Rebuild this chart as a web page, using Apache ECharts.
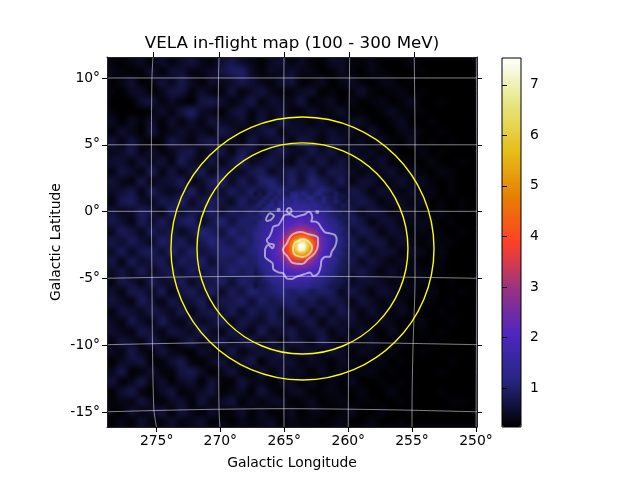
<!DOCTYPE html>
<html><head><meta charset="utf-8">
<style>html,body{margin:0;padding:0;background:#fff}#c{width:640px;height:480px}</style>
<script src="https://cdn.jsdelivr.net/npm/echarts@6/dist/echarts.min.js"></script>
</head><body><div id="c"></div>
<script>
const titleText = 'VELA in-flight map (100 - 300 MeV)';
const colormap = ['#000000','#262680','#4d26bf','#993380','#ff4026','#e68000','#e6bf1a','#e6e680','#ffffff'];
const vMin = 0.23, vMax = 7.53;
const lonMin = 250.23, lonMax = 278.47, latMin = -16.12, latMax = 11.57;
const cbarTicks = [1,2,3,4,5,6,7];
const latTicks = [-15,-10,-5,0,5,10];
const lonTicksBottom = [274.68,269.82,264.94,260.05,255.19,250.31];
const lonTicksTop = [274.96,269.92,264.94,259.98,255.02];

// whole map, values x10, top row first
const backgroundRows = [
[3,2,4,5,2,6,3,5,7,4,3,6,8,5,4,2,5,6,3,5,3,2,5,5,3,3,4,2,2,2,4,2,2,2,2,2,2],
[4,3,2,3,6,2,6,6,3,4,5,7,9,10,5,3,5,4,6,4,4,2,3,5,3,2,4,3,2,2,2,3,2,2,2,2,2],
[2,4,6,2,3,7,4,8,5,2,6,4,5,8,6,4,3,6,7,2,3,5,2,4,5,3,2,4,4,2,3,2,2,2,2,2,2],
[3,2,5,5,2,4,7,7,3,6,3,3,7,3,5,7,4,3,3,5,6,2,3,2,3,6,3,2,3,4,2,3,2,2,2,2,2],
[2,2,2,6,7,3,5,3,2,7,8,6,3,5,8,3,6,5,4,7,2,4,5,2,4,2,3,4,2,3,5,2,2,3,2,2,2],
[3,2,2,2,3,6,3,7,10,5,4,2,6,7,3,6,4,6,3,3,6,3,4,6,2,3,2,3,5,3,3,3,2,2,2,2,2],
[5,2,5,3,6,2,6,3,6,3,7,5,4,6,3,7,3,8,5,5,3,5,2,3,5,5,3,2,3,5,2,2,3,2,2,2,2],
[2,6,4,2,7,3,4,6,4,5,3,8,6,3,5,6,8,3,6,5,6,4,6,4,5,2,6,3,2,4,4,3,2,3,2,2,2],
[7,3,7,4,2,3,8,5,3,7,8,4,5,3,8,4,5,7,3,8,6,3,6,6,3,5,2,5,3,2,5,2,3,2,3,2,2],
[4,5,8,3,6,3,4,7,8,3,5,8,3,9,6,3,6,8,5,4,8,5,7,3,6,4,5,3,5,2,2,4,2,3,2,2,2],
[6,6,3,7,4,7,3,9,5,4,8,3,7,10,4,6,8,5,3,8,4,8,4,7,3,6,3,6,2,4,3,2,4,2,2,3,2],
[3,7,6,3,9,3,7,3,7,9,3,8,6,4,8,9,4,7,9,6,9,4,8,7,5,3,5,4,6,3,5,3,2,4,3,2,2],
[7,4,3,8,3,6,6,9,3,5,9,10,4,9,5,10,11,6,10,5,11,8,5,9,3,6,6,3,4,6,3,5,3,2,3,2,2],
[5,6,8,3,9,5,4,6,10,4,7,5,9,6,10,6,10,12,7,10,8,12,9,4,8,6,3,6,5,3,5,3,4,2,3,2,2],
[3,8,9,5,4,8,7,10,4,8,9,7,4,10,6,9,11,11,12,12,12,10,10,8,6,8,6,3,5,5,3,5,2,3,2,3,2],
[7,4,5,9,7,3,10,5,8,6,10,5,9,7,10,9,11,13,14,13,12,11,8,10,8,4,7,6,3,5,5,3,3,4,2,3,2],
[8,6,3,9,5,9,5,9,10,4,7,11,6,10,9,11,13,15,18,15,13,11,10,6,9,7,3,6,6,3,4,4,4,2,3,2,2],
[4,9,7,4,9,6,8,4,7,11,9,6,11,8,10,12,14,20,25,20,14,12,9,10,5,8,7,3,6,5,3,4,3,3,2,3,2],
[8,5,9,6,4,10,7,9,5,8,11,9,7,11,9,12,15,25,40,25,15,12,10,8,9,4,7,7,3,6,4,2,4,3,3,2,2],
[5,9,4,8,9,5,10,6,10,6,8,10,10,7,11,12,14,22,35,22,14,12,10,9,6,9,4,6,6,3,5,4,2,4,2,2,2],
[8,3,9,5,7,9,4,9,7,10,5,9,8,11,9,11,13,16,20,16,13,11,8,10,8,4,7,5,3,5,4,2,3,3,2,2,2],
[5,7,4,9,4,7,9,5,9,6,9,7,11,8,10,10,12,13,15,13,12,9,10,7,6,8,5,3,6,3,4,4,2,3,2,2,2],
[3,8,6,3,9,5,6,9,4,8,7,10,5,10,8,11,11,12,13,12,11,10,7,9,4,6,6,5,3,5,3,4,3,2,3,2,2],
[6,3,8,7,4,9,3,7,9,5,10,4,9,6,11,8,10,12,9,11,8,10,9,4,8,5,3,6,5,3,4,2,4,2,2,3,2],
[7,5,3,9,6,3,8,5,6,9,3,8,7,10,5,10,7,9,10,6,9,5,8,7,3,7,5,3,5,4,2,3,3,2,3,2,2],
[3,7,6,4,8,6,4,9,3,7,8,5,9,4,9,6,9,5,8,9,4,8,4,8,6,3,6,4,3,5,3,2,2,3,2,2,2],
[5,3,8,5,3,9,5,3,8,4,6,9,3,8,6,5,8,7,3,6,8,3,7,5,6,4,3,5,4,2,3,4,2,2,3,2,2],
[6,4,3,8,6,3,7,6,4,9,5,3,8,6,3,9,4,6,8,4,6,7,3,6,3,6,4,2,5,3,2,3,2,3,2,2,2],
[3,7,5,3,8,5,2,5,8,3,6,8,4,7,9,3,7,3,7,6,3,8,5,3,6,3,5,3,2,4,3,2,3,2,2,2,2],
[5,3,8,4,3,7,4,3,2,6,4,3,8,3,5,7,5,8,3,5,6,3,6,5,2,5,4,2,4,2,2,3,2,2,2,2,2],
[2,5,6,7,2,3,6,8,3,2,5,7,3,6,8,2,6,5,6,3,5,4,2,5,4,2,3,4,2,3,2,2,2,2,3,2,2],
[4,8,2,3,6,3,3,7,8,5,2,4,7,3,2,7,3,6,4,5,2,5,3,4,3,3,4,2,3,2,3,2,2,3,2,2,2],
[7,2,4,8,3,6,2,5,6,2,7,3,2,7,4,4,2,5,5,2,5,2,4,2,5,2,2,3,2,3,2,2,2,2,2,2,2],
[2,6,8,3,2,5,7,2,4,5,7,2,4,5,2,7,4,2,5,5,2,3,4,3,2,4,2,2,4,2,3,2,2,3,2,2,2],
[3,4,3,7,4,2,5,6,2,7,3,5,7,2,5,3,5,5,2,3,5,2,3,4,2,3,3,2,2,3,2,2,2,2,3,3,2],
[3,2,6,3,5,7,2,7,4,2,6,3,3,6,2,5,2,3,5,2,4,4,2,3,5,2,2,4,2,2,3,2,2,3,2,2,2],
[2,4,2,6,3,3,6,3,4,6,2,4,2,4,3,4,5,2,4,3,3,2,3,4,2,2,4,2,2,3,2,2,2,2,2,2,2]
];
// finer cells round the source, values x10, top row first
const coreRows = [
[6,8,6,9,10,8,11,9,8,11,12,10,12,10,9,11,12,9,8,7,9,7,6,6],
[8,7,9,10,8,11,9,12,10,12,13,11,10,13,12,10,9,11,9,8,9,7,7,6],
[7,9,10,8,11,9,12,11,13,11,14,12,12,11,13,11,10,12,9,8,10,8,6,7],
[9,10,8,11,12,10,13,14,12,14,15,13,15,13,12,14,12,10,10,9,8,7,9,7],
[9,8,11,12,10,13,14,15,13,16,15,16,14,16,14,13,12,11,12,10,9,8,8,7],
[8,11,12,10,13,14,15,16,17,16,18,17,18,16,17,15,13,14,11,10,9,9,7,8],
[10,9,12,14,13,15,17,17,18,19,19,20,19,20,18,17,16,14,12,11,10,8,9,8],
[9,12,13,14,16,16,18,19,20,20,21,22,21,20,20,19,18,15,13,13,11,10,8,7],
[10,12,14,15,16,18,19,20,21,22,24,25,25,24,22,21,19,16,15,13,12,10,9,8],
[11,13,14,16,17,19,20,22,24,26,28,30,30,28,26,24,21,19,16,14,12,11,10,8],
[12,13,15,16,18,19,21,24,27,32,36,38,38,34,32,28,23,20,17,15,13,11,9,9],
[12,14,15,17,19,20,22,27,33,40,46,50,50,45,39,33,25,21,18,16,13,11,10,9],
[11,13,15,17,19,21,24,30,37,46,58,68,68,58,46,36,26,22,19,16,13,12,10,8],
[12,13,16,17,19,21,25,32,39,49,62,77,76,62,49,37,26,22,19,15,13,11,10,9],
[11,13,15,17,19,21,25,32,39,48,60,73,71,58,47,35,25,21,18,15,13,11,9,8],
[11,13,15,17,19,21,24,30,37,45,52,56,56,50,41,31,23,20,17,15,12,11,10,8],
[10,12,14,16,18,20,22,27,33,38,43,45,44,39,32,26,21,19,16,14,12,10,9,8],
[10,12,13,15,17,19,21,24,27,32,34,35,33,30,26,23,20,19,16,13,12,10,8,8],
[9,11,13,14,16,18,20,21,24,26,27,27,26,25,23,21,19,17,14,13,11,9,9,7],
[8,10,12,14,15,17,19,20,21,22,23,23,22,21,20,19,18,16,14,12,10,9,8,7],
[7,9,11,13,14,16,17,18,19,19,20,20,19,19,19,18,16,14,12,11,10,8,8,7],
[8,8,10,12,13,14,15,16,17,17,18,18,17,18,17,15,14,13,11,10,9,8,7,7],
[7,8,9,10,12,13,14,15,15,16,16,15,16,15,14,13,12,11,10,9,8,8,7,6],
[6,8,8,9,10,11,12,13,14,14,14,14,13,14,12,11,11,10,9,8,8,7,6,6]
];
const contourOuter = [[264.45,-0.20],[264.12,-0.40],[263.74,-0.30],[263.36,-0.20],[263.10,-0.01],[262.90,-0.13],[262.80,-0.45],[262.90,-0.75],[262.65,-0.75],[262.34,-0.88],[262.09,-1.25],[261.83,-1.55],[261.45,-1.63],[261.07,-1.75],[260.94,-2.13],[261.07,-2.62],[261.32,-3.00],[261.45,-3.37],[261.76,-3.37],[262.09,-3.62],[262.16,-4.12],[262.34,-4.62],[262.72,-4.82],[262.98,-4.55],[263.23,-4.62],[263.61,-4.75],[263.99,-4.87],[264.38,-5.05],[264.76,-5.00],[265.01,-4.62],[265.39,-4.55],[265.78,-4.30],[265.83,-3.87],[266.16,-3.62],[266.41,-3.37],[266.41,-2.87],[266.16,-2.50],[265.83,-2.75],[265.73,-2.50],[266.16,-2.37],[266.28,-2.13],[266.08,-1.88],[265.90,-1.50],[265.78,-1.13],[265.39,-1.00],[265.14,-0.63],[264.89,-0.25],[264.45,-0.20]];
const contourBlob = [[266.34,-0.55],[266.03,-0.13],[265.73,-0.30],[265.98,-0.63],[266.28,-0.70],[266.34,-0.55]];
const contourRing = [[264.78,0.07],[264.58,0.27],[264.38,0.07],[264.58,-0.13],[264.78,0.07]];
const contourMid = [[264.27,-1.68],[263.74,-1.53],[263.13,-1.68],[262.37,-1.98],[262.37,-2.50],[262.60,-3.10],[263.13,-3.55],[263.59,-3.92],[264.27,-3.85],[264.66,-3.40],[265.04,-2.87],[264.73,-2.35],[264.50,-1.90],[264.27,-1.68]];
const contourInner = [[263.89,-2.20],[263.51,-2.05],[262.98,-2.35],[262.82,-2.72],[262.98,-3.10],[263.51,-3.40],[263.97,-3.32],[264.27,-2.87],[264.20,-2.43],[263.89,-2.20]];
const contourDots = [[265.37,0.14],[262.42,-0.03]];
// lon, lat, radius along lon, radius along lat
const regionRings = [[263.55,-2.76,8.05,7.90],[263.55,-2.76,10.04,9.84]];
const meridians = [
 [[274.96,11.57],[275.04,10],[275.08,4.98],[275.08,0],[275.04,-4.97],[275.00,-9.99],[274.89,-14.85],[274.69,-16.12]],
 [[269.92,11.57],[269.96,10],[270.00,4.98],[270.00,0],[270.00,-4.97],[269.96,-9.99],[269.92,-14.85],[269.85,-16.12]],
 [[264.96,11.57],[265.00,0],[264.96,-16.12]],
 [[259.95,11.57],[260.00,4.98],[260.00,0],[260.03,-9.99],[260.06,-16.12]],
 [[255.02,11.57],[254.96,4.98],[254.96,0],[254.96,-4.97],[255.11,-9.99],[255.19,-14.85],[255.19,-16.12]],
 [[250.28,11.57],[250.25,0],[250.30,-16.12]]
];
const parallels = [
 [[278.47,10.0],[250.23,10.0]],
 [[278.47,5.0],[250.23,5.0]],
 [[278.47,0.02],[250.23,0.02]],
 [[278.47,-4.99],[271.76,-4.88],[265,-4.84],[257.63,-4.88],[250.23,-4.99]],
 [[278.47,-9.96],[271.76,-9.83],[265,-9.78],[257.63,-9.83],[250.23,-9.96]],
 [[278.47,-14.98],[271.76,-14.82],[265,-14.75],[257.63,-14.82],[250.23,-14.98]]
];

const FONT = 'DejaVu Sans';
const toCells = rows => rows.flatMap((r, j) => r.map((v, i) => [i, j, v / 10]));
const idx = n => Array.from({length: n}, (_, i) => i);
const hiddenCat = (gridIndex, n, inverse) => ({type: 'category', gridIndex, data: idx(n), show: false, inverse: !!inverse, boundaryGap: true});
const lineStyleGrid = {color: 'rgba(255,255,255,0.5)', width: 1};
const lineStyleContour = {color: 'rgba(255,255,255,0.55)', width: 2};
const tick = {show: true, length: 5, inside: false, lineStyle: {color: '#000', width: 1}};
const axisLine = {show: true, onZero: false, lineStyle: {color: '#222', width: 1}};
const mapLine = (data, lineStyle, smooth, z) => ({type: 'line', xAxisIndex: 0, yAxisIndex: 0, data, showSymbol: false, symbol: 'none', smooth: smooth || 0, lineStyle, silent: true, z, clip: true, animation: false});

const chart = echarts.init(document.getElementById('c'), null, {renderer: 'canvas'});
chart.setOption({
  animation: false,
  backgroundColor: 'transparent',
  textStyle: {fontFamily: FONT, color: '#000'},
  title: {text: titleText, left: 292, top: 35, textAlign: 'center', padding: 0,
    textStyle: {fontFamily: FONT, fontSize: 16.67, fontWeight: 'normal', color: '#000'}},
  grid: [
    {left: 107, top: 57, width: 370, height: 370, z: 6},
    {left: 107, top: 57, width: 370, height: 370},
    {left: 254, top: 192, width: 96, height: 96},
    {left: 502, top: 58, width: 19, height: 369, show: true, borderColor: '#000', borderWidth: 1, backgroundColor: 'transparent', z: 6}
  ],
  xAxis: [
    {type: 'value', gridIndex: 0, inverse: true, min: lonMin, max: lonMax, position: 'bottom', z: 6,
     name: 'Galactic Longitude', nameLocation: 'middle', nameGap: 29, nameTextStyle: {fontFamily: FONT, fontSize: 13.9, color: '#000'},
     axisLine, axisTick: {...tick, customValues: lonTicksBottom}, splitLine: {show: false},
     axisLabel: {show: true, customValues: lonTicksBottom, margin: 7, fontFamily: FONT, fontSize: 13.9, color: '#000', hideOverlap: false, showMinLabel: true, showMaxLabel: true,
       formatter: v => Math.round(v / 5) * 5 + '°'}},
    {type: 'value', gridIndex: 0, inverse: true, min: lonMin, max: lonMax, position: 'top', z: 6,
     axisLine, axisTick: {...tick, customValues: lonTicksTop}, axisLabel: {show: false}, splitLine: {show: false}},
    hiddenCat(1, 37),
    hiddenCat(2, 24),
    {type: 'value', gridIndex: 3, min: 0, max: 1, show: false}
  ],
  yAxis: [
    {type: 'value', gridIndex: 0, min: latMin, max: latMax, position: 'left', z: 6,
     name: 'Galactic Latitude', nameLocation: 'middle', nameGap: 51, nameMoveOverlap: false, nameRotate: 90, nameTextStyle: {fontFamily: FONT, fontSize: 13.9, color: '#000', verticalAlign: 'middle'},
     axisLine, axisTick: {...tick, customValues: latTicks}, splitLine: {show: false},
     axisLabel: {show: true, customValues: latTicks, margin: 7, fontFamily: FONT, fontSize: 13.9, color: '#000', formatter: v => v + '°'}},
    {type: 'value', gridIndex: 0, min: latMin, max: latMax, position: 'right', z: 6,
     axisLine, axisTick: {...tick, customValues: latTicks}, axisLabel: {show: false}, splitLine: {show: false}},
    hiddenCat(1, 37, true),
    hiddenCat(2, 24, true),
    {type: 'value', gridIndex: 3, min: vMin, max: vMax, position: 'right', z: 6,
     axisLine: {show: false}, splitLine: {show: false},
     axisTick: {...tick, customValues: cbarTicks},
     axisLabel: {show: true, customValues: cbarTicks, margin: 9, fontFamily: FONT, fontSize: 13.9, color: '#000'}}
  ],
  visualMap: {
    type: 'continuous', min: vMin, max: vMax, dimension: 2, seriesIndex: [0, 1],
    left: 502, top: 58, itemWidth: 19, itemHeight: 369, padding: 0,
    calculable: false, hoverLink: false, showLabel: false, text: null, inRange: {color: colormap}, z: 4
  },
  series: [
    {type: 'heatmap', xAxisIndex: 2, yAxisIndex: 2, data: toCells(backgroundRows), progressive: 0, silent: true, zlevel: -2, itemStyle: {borderWidth: 0}},
    {type: 'heatmap', xAxisIndex: 3, yAxisIndex: 3, data: toCells(coreRows), progressive: 0, silent: true, zlevel: -1, itemStyle: {borderWidth: 0}},
    ...meridians.map(m => mapLine(m, lineStyleGrid, 0.3, 3)),
    ...parallels.map(p => mapLine(p, lineStyleGrid, 0.3, 3)),
    mapLine(contourOuter, lineStyleContour, 0.3, 4),
    mapLine(contourBlob, lineStyleContour, 0.3, 4),
    mapLine(contourRing, lineStyleContour, 0.5, 4),
    mapLine(contourMid, lineStyleContour, 0.4, 4),
    mapLine(contourInner, lineStyleContour, 0.5, 4),
    {type: 'scatter', xAxisIndex: 0, yAxisIndex: 0, data: contourDots, symbolSize: 4, itemStyle: {color: 'rgba(255,255,255,0.6)'}, silent: true, z: 4},
    {type: 'custom', xAxisIndex: 0, yAxisIndex: 0, data: regionRings, silent: true, z: 5, clip: true,
     renderItem: (params, api) => {
       const c = api.coord([api.value(0), api.value(1)]);
       const s = api.size([api.value(2), api.value(3)], [api.value(0), api.value(1)]);
       return {type: 'ellipse', shape: {cx: c[0], cy: c[1], rx: Math.abs(s[0]), ry: Math.abs(s[1])},
               style: {fill: 'none', stroke: '#ffff00', lineWidth: 1.4}};
     }}
  ]
});
// the map in the reference is smoothed: soften only its two heatmap layers
const softenLayers = () => {
  const painter = chart.getZr().painter;
  const clip = 'inset(57px 163px 53px 107px)';
  const bg = painter.getLayer(-2).dom;
  bg.style.background = '#0a0a22';
  bg.style.filter = 'blur(3px)';
  bg.style.clipPath = clip;
  const core = painter.getLayer(-1).dom;
  core.style.filter = 'blur(1.3px)';
  core.style.clipPath = clip;
};
softenLayers();
chart.on('finished', softenLayers);
</script></body></html>
